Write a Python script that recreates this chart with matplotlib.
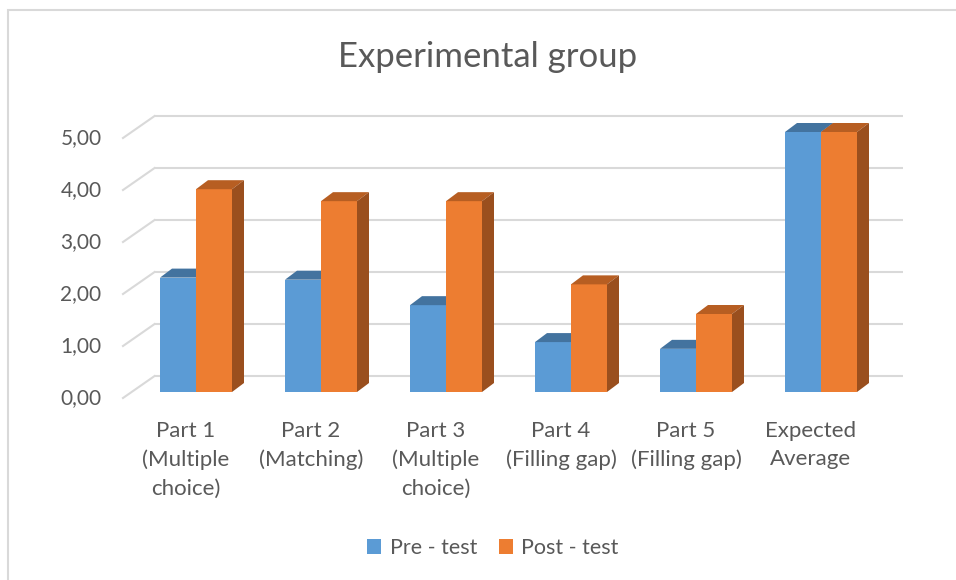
import matplotlib
matplotlib.use("Agg")
import matplotlib.pyplot as plt
from matplotlib.patches import Polygon, Rectangle, Patch
from matplotlib.transforms import ScaledTranslation

# ---------------- data ----------------
categories = ["Part 1\n(Multiple\nchoice)", "Part 2\n(Matching)", "Part 3\n(Multiple\nchoice)",
              "Part 4\n(Filling gap)", "Part 5\n(Filling gap)", "Expected\nAverage"]
pre_test = [2.20, 2.16, 1.67, 0.96, 0.83, 5.00]
post_test = [3.90, 3.67, 3.67, 2.07, 1.50, 5.00]
series_names = ["Pre - test", "Post - test"]
y_ticks = [0, 1, 2, 3, 4, 5]
y_tick_labels = ["0,00", "1,00", "2,00", "3,00", "4,00", "5,00"]
title = "Experimental group"

# ---------------- style ----------------
FONT = "Lato"
TXT = "#595959"
GRID = "#D9D9D9"
BLUE, BLUE_TOP, BLUE_SIDE = "#5B9BD5", "#43739F", "#3E6894"
ORANGE, ORANGE_TOP, ORANGE_SIDE = "#ED7D31", "#B75E22", "#9A4F1E"
W = 0.288            # bar width (category units)
DX, DY = 0.096, 0.173  # bar depth (data units)
DPI = 100

plt.rcParams["font.family"] = [FONT, "DejaVu Sans"]

fig = plt.figure(figsize=(9.56, 5.8), dpi=DPI)
fig.patch.set_facecolor("white")
# outer chart border (only top/left visible in the crop)
fig.patches.append(Rectangle((8 / 956, -0.1), 1.2, (580 - 10) / 580 + 0.1,
                             transform=fig.transFigure, fill=False,
                             edgecolor=GRID, lw=1.5, zorder=0))

ax = fig.add_axes([130.6 / 956, 188 / 580, 748 / 956, 260 / 580])
ax.set_xlim(-0.5232, 5.4608)
ax.set_ylim(0, 5)
ax.axis("off")


def shift(dx_px, dy_px):
    return ax.transData + ScaledTranslation(dx_px / DPI, dy_px / DPI, fig.dpi_scale_trans)


x0, x1 = ax.get_xlim()
back = shift(24, 16)
# back wall gridlines and left wall diagonals
for v in y_ticks:
    ax.plot([x0, x1], [v, v], color=GRID, lw=1.5, transform=back, zorder=1,
            clip_on=False, solid_capstyle="butt")
    p_front = shift(-7.6, -6).transform((x0, v))
    p_back = back.transform((x0, v))
    ax.plot([p_front[0], p_back[0]], [p_front[1], p_back[1]], color=GRID, lw=1.5,
            transform=None, zorder=1, clip_on=False)

# y tick labels on the front wall
for v, lab in zip(y_ticks, y_tick_labels):
    ax.text(x0, v, lab, transform=shift(-29, -6), ha="right", va="center",
            fontsize=15, color=TXT, clip_on=False)


def bar3d(xc, h, front, top, side, z):
    left, right = xc - W / 2, xc + W / 2
    ax.bar(xc, h, width=W, color=front, zorder=z, linewidth=0)
    ax.add_patch(Polygon([(left, h), (right, h), (right + DX, h + DY), (left + DX, h + DY)],
                         closed=True, facecolor=top, edgecolor="none", zorder=z, clip_on=False))
    ax.add_patch(Polygon([(right, 0), (right, h), (right + DX, h + DY), (right + DX, DY)],
                         closed=True, facecolor=side, edgecolor="none", zorder=z, clip_on=False))


for i, (a, b) in enumerate(zip(pre_test, post_test)):
    bar3d(i - W / 2, a, BLUE, BLUE_TOP, BLUE_SIDE, 3 + 2 * i)
    bar3d(i + W / 2, b, ORANGE, ORANGE_TOP, ORANGE_SIDE, 4 + 2 * i)

# category labels
for i, lab in enumerate(categories):
    ax.text(i, 0, lab, transform=shift(-10, -29), ha="center", va="top",
            fontsize=16, color=TXT, linespacing=1.52, clip_on=False)

fig.text(488 / 956, 1 - 57 / 580, title, ha="center", va="center", fontsize=25, color=TXT)

handles = [Patch(facecolor=BLUE, edgecolor="none"), Patch(facecolor=ORANGE, edgecolor="none")]
fig.legend(handles, series_names, loc="center", bbox_to_anchor=(493 / 956, 1 - 548 / 580),
           ncol=2, frameon=False, fontsize=15.5, labelcolor=TXT, handlelength=0.64,
           handleheight=0.64, handletextpad=0.4, columnspacing=1.0)

fig.savefig("out.png", dpi=DPI, facecolor="white")
